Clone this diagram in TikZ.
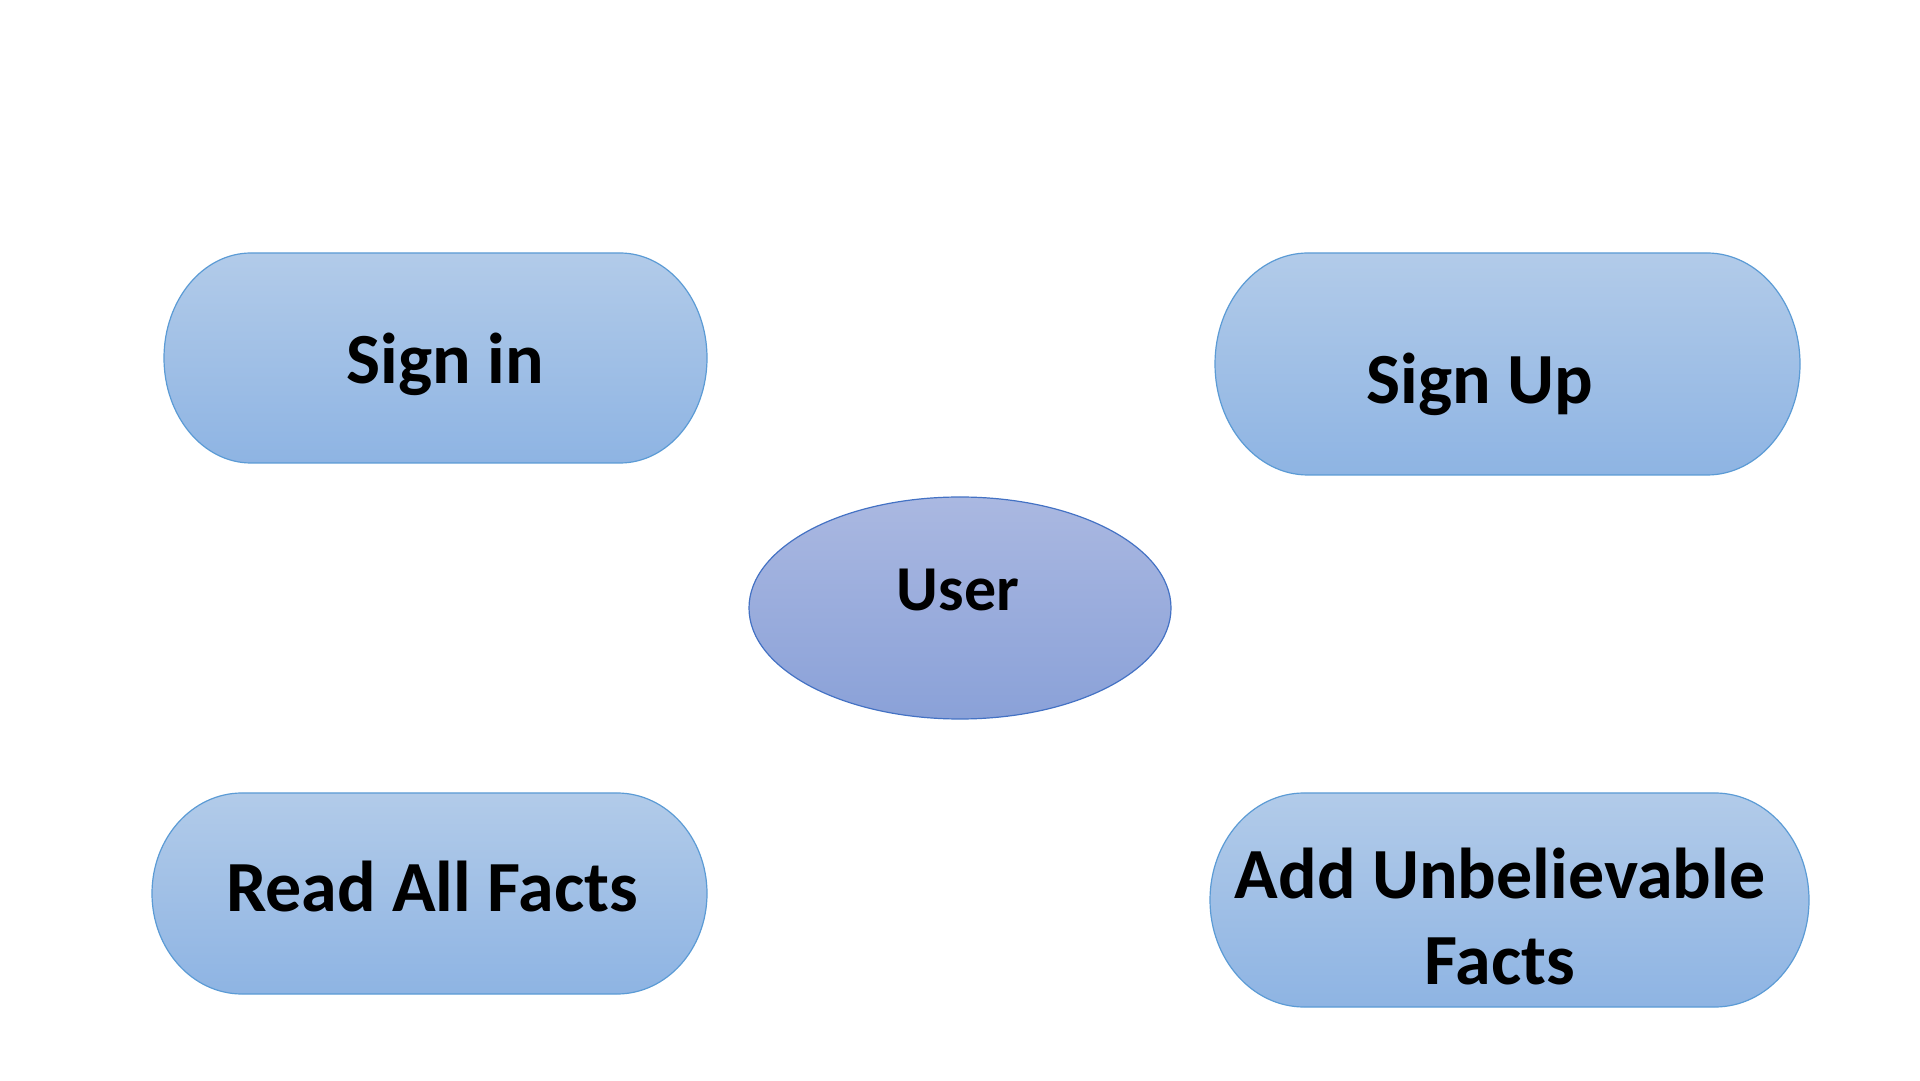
\documentclass[tikz,border=0pt]{standalone}
\usepackage{fontspec}
\setmainfont{Carlito}
\usetikzlibrary{shapes.geometric}
\definecolor{termtop}{HTML}{B2CBE9}
\definecolor{termbot}{HTML}{8EB4E3}
\definecolor{termline}{HTML}{5B9BD5}
\definecolor{usertop}{HTML}{AAB8E1}
\definecolor{userbot}{HTML}{8AA1D8}
\definecolor{userline}{HTML}{4472C4}
\tikzset{
  termshape/.style={top color=termtop, bottom color=termbot, draw=termline, line width=1.2pt},
  usershape/.style={top color=usertop, bottom color=userbot, draw=userline, line width=1.2pt},
  lbl/.style={font=\bfseries\fontsize{72}{86}\selectfont, text=black, align=center, inner sep=0pt},
}
% #1 x1, #2 x2, #3 ytop, #4 ybottom, #5 rx
\newcommand{\termpath}[5]{%
  \path[termshape] (#1+#5,#3) -- (#2-#5,#3)
    arc[start angle=90, end angle=-90, x radius=#5, y radius={(#3-#4)/2}]
    -- (#1+#5,#4)
    arc[start angle=270, end angle=90, x radius=#5, y radius={(#3-#4)/2}]
    -- cycle;}
\begin{document}
\begin{tikzpicture}[x=1pt,y=1pt]
\useasboundingbox[fill=white] (0,0) rectangle (1920,1080);
% shapes
\termpath{164}{707}{827}{617}{87}
\termpath{1215}{1800}{827}{605}{93}
\termpath{152}{707}{287}{86}{90}
\termpath{1210}{1809}{287}{73}{94}
\node[usershape, ellipse, minimum width=422pt, minimum height=222pt, inner sep=0pt] (usershp) at (960,472) {};
% labels
\node[lbl] (signin) at (445,716) {Sign in};
\node[lbl] (signup) at (1480,696) {Sign Up};
\node[lbl, font=\bfseries\fontsize{64}{76}\selectfont] (user) at (958,490) {User};
\node[lbl] (readall) at (432,193) {Read All Facts};
\node[lbl] (addfacts) at (1500,163) {Add Unbelievable\\Facts};
\end{tikzpicture}
\end{document}
